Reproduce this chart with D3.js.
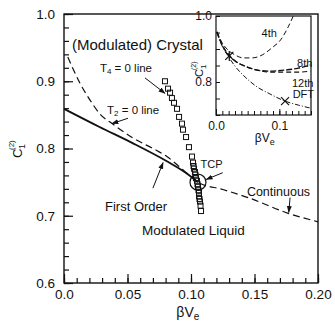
<!DOCTYPE html>
<html>
<head>
<meta charset="utf-8">
<script src="https://cdn.jsdelivr.net/npm/d3@7"></script>
<style>
  body { margin: 0; background: #fff; }
  svg { display: block; }
</style>
</head>
<body>
<div id="chart"></div>
<script>
// ---- main panel data ----
var firstOrderX = [0.000, 0.028, 0.054, 0.081, 0.095, 0.1055];
var firstOrderY = [0.859, 0.832, 0.808, 0.781, 0.765, 0.750];

var t2LineX = [0.003, 0.0126, 0.0205, 0.028, 0.0386, 0.054, 0.073, 0.081, 0.095, 0.1055, 0.125, 0.145, 0.176, 0.200];
var t2LineY = [0.936, 0.897, 0.872, 0.852, 0.836, 0.816, 0.797, 0.788, 0.766, 0.750, 0.739, 0.727, 0.704, 0.691];

var t4SquaresX = [0.0795, 0.0819, 0.0835, 0.0850, 0.0866, 0.0890, 0.0906, 0.0929, 0.0937, 0.0961, 0.0984, 0.1008, 0.1016,
                  0.1020, 0.1024, 0.1031, 0.1035, 0.1039, 0.1047, 0.1051, 0.1055, 0.1059, 0.1063, 0.1063, 0.1067, 0.1071, 0.1075, 0.1079];
var t4SquaresY = [0.900, 0.889, 0.883, 0.875, 0.868, 0.859, 0.847, 0.837, 0.828, 0.817, 0.802, 0.788, 0.779,
                  0.774, 0.770, 0.765, 0.761, 0.756, 0.752, 0.747, 0.743, 0.738, 0.734, 0.729, 0.725, 0.721, 0.715, 0.707];

var tcp = [0.1055, 0.750];

var xTicksMain = [0, 0.05, 0.10, 0.15, 0.20];
var xTickLabelsMain = ["0.0", "0.05", "0.10", "0.15", "0.20"];
var yTicksMain = [0.6, 0.7, 0.8, 0.9, 1.0];
var yTickLabelsMain = ["0.6", "0.7", "0.8", "0.9", "1.0"];

// ---- inset data ----
var insetX = [0.0016, 0.009, 0.019, 0.030, 0.046, 0.065, 0.085, 0.109, 0.130, 0.149];
var order8Y = [0.952, 0.915, 0.885, 0.864, 0.848, 0.836, 0.833, 0.836, 0.842, 0.852];
var order12Y = [0.952, 0.915, 0.885, 0.864, 0.848, 0.836, 0.830, 0.830, 0.830, 0.833];
var dftY = [0.948, 0.912, 0.879, 0.848, 0.815, 0.785, 0.764, 0.742, 0.730, 0.721];
var order4X = [0.0016, 0.009, 0.019, 0.030, 0.043, 0.057, 0.073, 0.088, 0.103, 0.114, 0.122];
var order4Y = [0.952, 0.921, 0.897, 0.882, 0.873, 0.873, 0.882, 0.903, 0.930, 0.967, 1.000];
var insetStar = [0.021, 0.879];
var insetCross = [0.109, 0.742];

var xTicksInset = [0, 0.1];
var xTickLabelsInset = ["0.0", "0.1"];
var yTicksInset = [0.8, 1.0];
var yTickLabelsInset = ["0.8", "1.0"];

var font = "'Liberation Sans', Arial, sans-serif";

var svg = d3.select("#chart").append("svg")
  .attr("width", 335).attr("height", 325)
  .style("font-family", font);

svg.append("rect").attr("width", 335).attr("height", 325).attr("fill", "#fff");

// scales
var x = d3.scaleLinear().domain([0, 0.2]).range([64, 318]);
var y = d3.scaleLinear().domain([0.6, 1.0]).range([283, 14]);

var zip = function(a, b) { return a.map(function(v, i) { return [v, b[i]]; }); };

var defs = svg.append("defs");
defs.append("marker").attr("id", "arrow")
  .attr("viewBox", "0 0 10 10").attr("refX", 9).attr("refY", 5)
  .attr("markerWidth", 7).attr("markerHeight", 7).attr("orient", "auto")
  .append("path").attr("d", "M0,1.5 L10,5 L0,8.5 Z").attr("fill", "#111");

// frame
svg.append("rect")
  .attr("x", x(0)).attr("y", y(1.0))
  .attr("width", x(0.2) - x(0)).attr("height", y(0.6) - y(1.0))
  .attr("fill", "none").attr("stroke", "#111").attr("stroke-width", 1.4);

// axes: minor ticks inward, majors longer
var gy = svg.append("g").attr("transform", "translate(" + x(0) + ",0)");
gy.call(d3.axisLeft(y).tickValues(d3.range(0, 21).map(function(i) { return 0.6 + i * 0.02; }))
  .tickSize(-5).tickFormat(""));
gy.append("g").call(d3.axisLeft(y).tickValues(yTicksMain).tickSize(-9).tickPadding(9)
  .tickFormat(function(d, i) { return yTickLabelsMain[i]; }));
gy.selectAll(".domain").remove();

var gx = svg.append("g").attr("transform", "translate(0," + y(0.6) + ")");
gx.call(d3.axisBottom(x).tickValues(d3.range(0, 21).map(function(i) { return i * 0.01; }))
  .tickSize(-5).tickFormat(""));
gx.append("g").call(d3.axisBottom(x).tickValues(xTicksMain).tickSize(-9).tickPadding(6)
  .tickFormat(function(d, i) { return xTickLabelsMain[i]; }));
gx.selectAll(".domain").remove();

svg.selectAll(".tick line").attr("stroke", "#111").attr("stroke-width", 1.2);
svg.selectAll(".tick text").attr("font-family", font).attr("font-size", 13.5).attr("fill", "#111");

// lines
var line = d3.line().x(function(d) { return x(d[0]); }).y(function(d) { return y(d[1]); }).curve(d3.curveMonotoneX);

svg.append("path").datum(zip(firstOrderX, firstOrderY))
  .attr("d", line).attr("fill", "none").attr("stroke", "#111").attr("stroke-width", 1.9);

svg.append("path").datum(zip(t2LineX, t2LineY))
  .attr("d", line).attr("fill", "none").attr("stroke", "#111").attr("stroke-width", 1.2)
  .attr("stroke-dasharray", "7,4");

// T4 = 0 squares
svg.append("g").selectAll("rect").data(zip(t4SquaresX, t4SquaresY)).enter().append("rect")
  .attr("x", function(d) { return x(d[0]) - 2.5; })
  .attr("y", function(d) { return y(d[1]) - 2.5; })
  .attr("width", 5).attr("height", 5)
  .attr("fill", "none").attr("stroke", "#111").attr("stroke-width", 1);

// TCP circle
svg.append("circle").attr("cx", x(tcp[0])).attr("cy", y(tcp[1])).attr("r", 8)
  .attr("fill", "none").attr("stroke", "#111").attr("stroke-width", 1.2);

// annotations
function arrow(x1, y1, x2, y2) {
  svg.append("line").attr("x1", x(x1)).attr("y1", y(y1)).attr("x2", x(x2)).attr("y2", y(y2))
    .attr("stroke", "#111").attr("stroke-width", 1).attr("marker-end", "url(#arrow)");
}
function label(txt, px, py, size, anchor) {
  return svg.append("text").attr("x", px).attr("y", py).attr("font-size", size)
    .attr("text-anchor", anchor || "start").attr("fill", "#111").text(txt);
}

label("(Modulated) Crystal", x(0.0063), y(0.947), 15);

var t4 = svg.append("text").attr("x", x(0.0283)).attr("y", y(0.914)).attr("font-size", 11.5).attr("fill", "#111");
t4.append("tspan").text("T");
t4.append("tspan").attr("font-size", 8).attr("dy", 2).text("4");
t4.append("tspan").attr("dy", -2).text(" = 0 line");
arrow(0.0638, 0.905, 0.0795, 0.882);

var t2 = svg.append("text").attr("x", x(0.0339)).attr("y", y(0.851)).attr("font-size", 11.5).attr("fill", "#111");
t2.append("tspan").text("T");
t2.append("tspan").attr("font-size", 8).attr("dy", 2).text("2");
t2.append("tspan").attr("dy", -2).text(" = 0 line");
arrow(0.0504, 0.845, 0.0378, 0.837);

label("First Order", x(0.0323), y(0.707), 13);
arrow(0.0700, 0.741, 0.0780, 0.779);

label("TCP", x(0.1075), y(0.771), 11);
arrow(0.1250, 0.764, 0.1120, 0.754);

label("Modulated Liquid", x(0.0614), y(0.672), 13.5);

label("Continuous", x(0.1440), y(0.730), 12.5);
arrow(0.1780, 0.727, 0.1770, 0.705);

// axis titles
var yt = svg.append("g").attr("transform", "translate(22,150) rotate(-90)");
yt.append("text").attr("x", -8).attr("y", 0).attr("font-size", 13).attr("fill", "#111").text("C");
yt.append("text").attr("x", 1).attr("y", 3).attr("font-size", 9).attr("fill", "#111").text("1");
yt.append("text").attr("x", 0).attr("y", -8).attr("font-size", 8).attr("fill", "#111").text("(2)");

var xt = svg.append("text").attr("x", x(0.0975)).attr("y", 317).attr("font-size", 14)
  .attr("text-anchor", "middle").attr("fill", "#111");
xt.append("tspan").text("βV");
xt.append("tspan").attr("font-size", 10).attr("dy", 3).text("e");

// ---- inset ----
var ix = d3.scaleLinear().domain([0, 0.15]).range([216, 311]);
var iy = d3.scaleLinear().domain([0.7, 1.0]).range([115, 16]);

defs.append("clipPath").attr("id", "insetClip").append("rect")
  .attr("x", ix(0)).attr("y", iy(1.0)).attr("width", ix(0.15) - ix(0)).attr("height", iy(0.7) - iy(1.0));

svg.append("rect").attr("x", ix(0)).attr("y", iy(1.0))
  .attr("width", ix(0.15) - ix(0)).attr("height", iy(0.7) - iy(1.0))
  .attr("fill", "#fff").attr("stroke", "#111").attr("stroke-width", 1.2);

var giy = svg.append("g").attr("transform", "translate(" + ix(0) + ",0)");
giy.call(d3.axisLeft(iy).tickValues(d3.range(0, 7).map(function(i) { return 0.7 + i * 0.05; }))
  .tickSize(-4).tickFormat(""));
giy.append("g").call(d3.axisLeft(iy).tickValues(yTicksInset).tickSize(0).tickPadding(4)
  .tickFormat(function(d, i) { return yTickLabelsInset[i]; }));
giy.selectAll(".domain").remove();

var gix = svg.append("g").attr("transform", "translate(0," + iy(0.7) + ")");
gix.call(d3.axisBottom(ix).tickValues(d3.range(0, 16).map(function(i) { return i * 0.01; }))
  .tickSize(-4).tickFormat(""));
gix.append("g").call(d3.axisBottom(ix).tickValues(xTicksInset).tickSize(-6).tickPadding(6)
  .tickFormat(function(d, i) { return xTickLabelsInset[i]; }));
gix.selectAll(".domain").remove();

giy.selectAll(".tick line").attr("stroke", "#111").attr("stroke-width", 1);
gix.selectAll(".tick line").attr("stroke", "#111").attr("stroke-width", 1);
giy.selectAll(".tick text").attr("font-family", font).attr("font-size", 12).attr("fill", "#111");
gix.selectAll(".tick text").attr("font-family", font).attr("font-size", 12).attr("fill", "#111");

var iline = d3.line().x(function(d) { return ix(d[0]); }).y(function(d) { return iy(d[1]); }).curve(d3.curveMonotoneX);
var curves = svg.append("g").attr("clip-path", "url(#insetClip)");
curves.append("path").datum(zip(order4X, order4Y)).attr("d", iline)
  .attr("fill", "none").attr("stroke", "#111").attr("stroke-width", 1).attr("stroke-dasharray", "5,3");
curves.append("path").datum(zip(insetX, order8Y)).attr("d", iline)
  .attr("fill", "none").attr("stroke", "#111").attr("stroke-width", 1.3).attr("stroke-dasharray", "6,2");
curves.append("path").datum(zip(insetX, order12Y)).attr("d", iline)
  .attr("fill", "none").attr("stroke", "#111").attr("stroke-width", 1.1).attr("stroke-dasharray", "5,3");
curves.append("path").datum(zip(insetX, dftY)).attr("d", iline)
  .attr("fill", "none").attr("stroke", "#111").attr("stroke-width", 1).attr("stroke-dasharray", "5,2,1,2");

// markers
function cross(cx, cy, r, star) {
  var g = svg.append("g").attr("stroke", "#111").attr("stroke-width", 1.2);
  g.append("line").attr("x1", cx - r).attr("y1", cy - r).attr("x2", cx + r).attr("y2", cy + r);
  g.append("line").attr("x1", cx - r).attr("y1", cy + r).attr("x2", cx + r).attr("y2", cy - r);
  if (star) g.append("line").attr("x1", cx).attr("y1", cy - r - 1).attr("x2", cx).attr("y2", cy + r + 1);
}
cross(ix(insetStar[0]), iy(insetStar[1]), 4, true);
cross(ix(insetCross[0]), iy(insetCross[1]), 4, false);

// inset labels
var il = function(t, px, py) {
  svg.append("text").attr("x", px).attr("y", py).attr("font-size", 11).attr("fill", "#111").text(t);
};
il("4th", ix(0.072), iy(0.935));
il("8th", ix(0.128), iy(0.845));
il("12th", ix(0.120), iy(0.786));
il("DFT", ix(0.121), iy(0.752));

var iyt = svg.append("g").attr("transform", "translate(203,70) rotate(-90)");
iyt.append("text").attr("x", -7).attr("y", 0).attr("font-size", 11).attr("fill", "#111").text("C");
iyt.append("text").attr("x", 1).attr("y", 3).attr("font-size", 8).attr("fill", "#111").text("1");
iyt.append("text").attr("x", 0).attr("y", -7).attr("font-size", 7).attr("fill", "#111").text("(2)");

var ixt = svg.append("text").attr("x", ix(0.077)).attr("y", 142).attr("font-size", 12)
  .attr("text-anchor", "middle").attr("fill", "#111");
ixt.append("tspan").text("βV");
ixt.append("tspan").attr("font-size", 9).attr("dy", 3).text("e");
</script>
</body>
</html>
